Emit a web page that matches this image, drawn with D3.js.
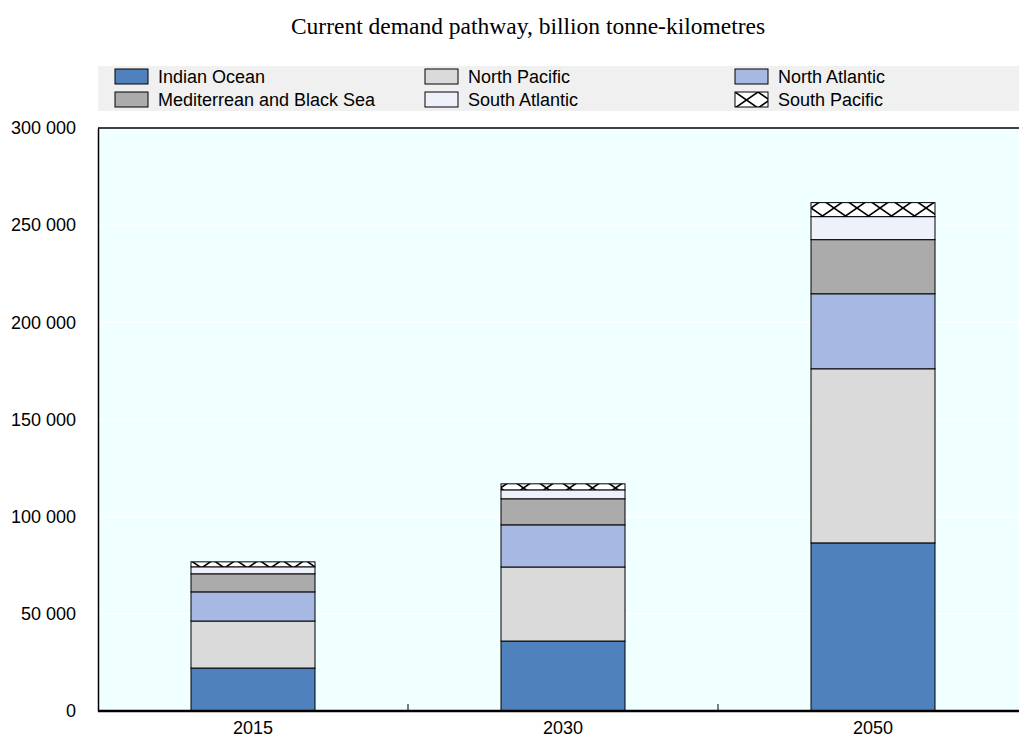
<!DOCTYPE html>
<html>
<head>
<meta charset="utf-8">
<script src="https://cdn.jsdelivr.net/npm/d3@7"></script>
<style>
  body { margin: 0; background: #fff; }
  text { font-family: "Liberation Sans", Arial, sans-serif; }
</style>
</head>
<body>
<div id="chart"></div>
<script>
// data
var years = ["2015", "2030", "2050"];
var seriesNames = ["Indian Ocean", "North Pacific", "North Atlantic", "Mediterrean and Black Sea", "South Atlantic", "South Pacific"];
var indianOcean = [22100, 36000, 86500];
var northPacific = [24200, 38100, 89600];
var northAtlantic = [15000, 21700, 38600];
var mediterranean = [9300, 13400, 27850];
var southAtlantic = [3600, 4600, 11850];
var southPacific = [2550, 3100, 7200];
var yTicks = [0, 50000, 100000, 150000, 200000, 250000, 300000];

var colors = ["#4f81bd", "#dadada", "#a7b8e3", "#ababab", "#eef1fa", "url(#spPattern)"];

var width = 1019;
var height = 739;
var margin = { left: 98, right: -9, top: 128, bottom: 28 };
var plotW = width - margin.left - margin.right;
var plotH = height - margin.top - margin.bottom;

var svg = d3.select('#chart')
    .append('svg')
    .attr('width', width)
    .attr('height', height);

// hatch for South Pacific
var defs = svg.append('defs');
var pat = defs.append('pattern')
    .attr('id', 'spPattern')
    .attr('patternUnits', 'userSpaceOnUse')
    .attr('width', 23)
    .attr('height', 16);
pat.append('rect').attr('width', 23).attr('height', 16).attr('fill', '#fff');
pat.append('path')
    .attr('d', 'M0,0L23,16M23,0L0,16')
    .attr('stroke', '#000')
    .attr('stroke-width', 1.6);

// table for the stack
var table = years.map(function (y, i) {
    return {
        year: y,
        "Indian Ocean": indianOcean[i],
        "North Pacific": northPacific[i],
        "North Atlantic": northAtlantic[i],
        "Mediterrean and Black Sea": mediterranean[i],
        "South Atlantic": southAtlantic[i],
        "South Pacific": southPacific[i]
    };
});
var stacked = d3.stack().keys(seriesNames)(table);

var x = d3.scaleBand()
    .domain(years)
    .range([0, plotW])
    .paddingInner(0.6)
    .paddingOuter(0.3);
var y = d3.scaleLinear()
    .domain([0, 300000])
    .range([plotH, 0]);

// title
svg.append('text')
    .attr('x', 528)
    .attr('y', 34)
    .attr('text-anchor', 'middle')
    .style('font-family', '"Liberation Serif", "Times New Roman", serif')
    .style('font-size', '23.5px')
    .attr('fill', '#000')
    .text('Current demand pathway, billion tonne-kilometres');

// legend
var lg = svg.append('g');
lg.append('rect')
    .attr('x', 98).attr('y', 66)
    .attr('width', width - 98).attr('height', 45)
    .attr('fill', '#f0f0f0');
var legendItems = lg.selectAll('g.item')
    .data(seriesNames)
    .enter()
    .append('g')
    .attr('class', 'item')
    .attr('transform', function (d, i) {
        return 'translate(' + (115 + (i % 3) * 310) + ',' + (69 + Math.floor(i / 3) * 23) + ')';
    });
legendItems.append('rect')
    .attr('width', 33)
    .attr('height', 15)
    .attr('fill', function (d, i) { return colors[i]; })
    .attr('stroke', '#000')
    .attr('stroke-width', 1);
legendItems.append('text')
    .attr('x', 43)
    .attr('y', 14)
    .style('font-size', '18px')
    .attr('fill', '#000')
    .text(function (d) { return d; });

var g = svg.append('g')
    .attr('transform', 'translate(' + margin.left + ',' + margin.top + ')');

g.append('rect')
    .attr('width', plotW)
    .attr('height', plotH)
    .attr('fill', '#f0ffff');

// white gridlines
g.selectAll('line.grid')
    .data(yTicks.slice(1))
    .enter()
    .append('line')
    .attr('class', 'grid')
    .attr('x1', 0).attr('x2', plotW)
    .attr('y1', d => y(d)).attr('y2', d => y(d))
    .attr('stroke', '#fff')
    .attr('stroke-width', 1.5);

// bars
var layers = g.selectAll('g.layer')
    .data(stacked)
    .enter()
    .append('g')
    .attr('class', 'layer')
    .attr('fill', function (d, i) { return colors[i]; });
layers.selectAll('rect')
    .data(d => d)
    .enter()
    .append('rect')
    .attr('x', d => x(d.data.year))
    .attr('y', d => y(d[1]))
    .attr('width', x.bandwidth())
    .attr('height', d => y(d[0]) - y(d[1]))
    .attr('stroke', '#000')
    .attr('stroke-width', 1);

// frame top
g.append('line')
    .attr('x1', 0).attr('x2', plotW)
    .attr('y1', 0).attr('y2', 0)
    .attr('stroke', '#000')
    .attr('stroke-width', 1.5);

// y axis
var yAxis = d3.axisLeft(y).tickValues(yTicks).tickSize(0).tickPadding(22)
    .tickFormat(function (d) { return d3.format(',')(d).replace(/,/g, ' '); });
var gY = g.append('g').call(yAxis);
gY.select('.domain').attr('stroke', '#000').attr('stroke-width', 1.5);
gY.selectAll('text').style('font-size', '18px').attr('fill', '#000')
    .style('font-family', '"Liberation Sans", Arial, sans-serif');

// x axis
var xAxis = d3.axisBottom(x).tickSize(0).tickPadding(10);
var gX = g.append('g')
    .attr('transform', 'translate(0,' + plotH + ')')
    .call(xAxis);
gX.select('.domain').remove();
gX.selectAll('text').style('font-size', '18px').attr('fill', '#000')
    .style('font-family', '"Liberation Sans", Arial, sans-serif');
// boundary ticks between categories
g.selectAll('line.sep')
    .data(years.slice(1))
    .enter()
    .append('line')
    .attr('class', 'sep')
    .attr('x1', d => x(d) - x.step() * x.paddingInner() / 2)
    .attr('x2', d => x(d) - x.step() * x.paddingInner() / 2)
    .attr('y1', plotH)
    .attr('y2', plotH - 7)
    .attr('stroke', '#000')
    .attr('stroke-width', 1);
g.append('line')
    .attr('x1', 0).attr('x2', plotW)
    .attr('y1', plotH).attr('y2', plotH)
    .attr('stroke', '#000')
    .attr('stroke-width', 2.5);
</script>
</body>
</html>
